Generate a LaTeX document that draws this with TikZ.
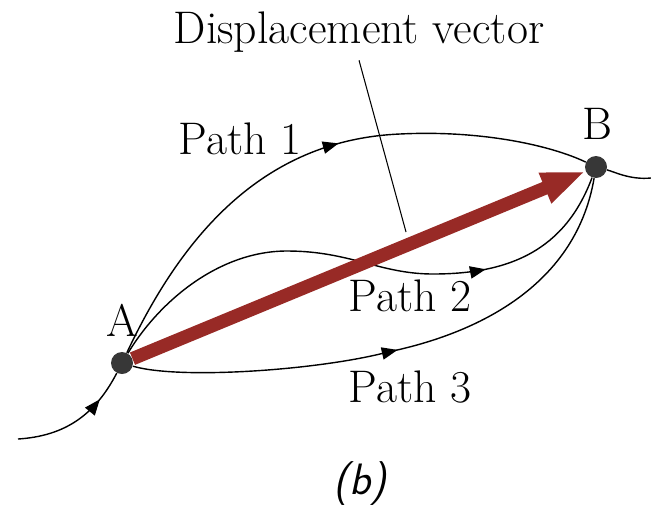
\documentclass[tikz,border=0pt]{standalone}
\usepackage{tikz}
\usetikzlibrary{arrows.meta,decorations.markings,positioning}

\definecolor{dispred}{RGB}{152,42,38}
\definecolor{dotgray}{RGB}{55,55,55}

\tikzset{
  lbl/.style={font=\fontsize{26}{30}\selectfont, inner sep=0pt, anchor=base},
  pt/.style={circle, fill=dotgray, inner sep=0pt, minimum size=0.44cm},
  trail/.style={line width=0.8pt, black},
  flowarrow/.style={postaction={decorate}, decoration={markings,
      mark=at position #1 with {\arrow{Triangle[length=9pt,width=7pt]}}}},
  disp/.style={line width=7.6pt, dispred, -{Triangle[length=25pt,width=17pt]}}
}

\begin{document}
\begin{tikzpicture}[x=0.02cm, y=-0.02cm]
    \useasboundingbox (0,0) rectangle (651,504);

    \node[pt] (A) at (122,363) {};
    \node[pt] (B) at (596,167) {};
    \coordinate (in) at (18,439);
    \coordinate (out) at (651,178);
    \coordinate (tick) at (406,232);

    \node[lbl] (title) at (359,43) {Displacement vector};
    \node[lbl] (nameA) at (122,336) {A};
    \node[lbl] (nameB) at (597,139) {B};
    \node[lbl] (path1) at (240,154) {Path 1};
    \node[lbl] (path2) at (410,311) {Path 2};
    \node[lbl] (path3) at (410,402) {Path 3};
    \node[lbl, font=\fontsize{25}{30}\selectfont\sffamily\itshape] (fig) at (360,494) {(b)};

    % paths from A to B
    \draw[trail, flowarrow=0.75] (in) .. controls (65,436) and (95,415) .. (A);
    \draw[trail] (B) .. controls (615,172) and (630,180) .. (out);
    \draw[trail, flowarrow=0.55] (A) .. controls (180,240) and (260,140) .. (400,134)
        .. controls (480,130) and (550,145) .. (B);
    \draw[trail, flowarrow=0.73] (A) .. controls (160,300) and (220,251) .. (287,251)
        .. controls (350,251) and (380,274) .. (433,274)
        .. controls (510,274) and (565,250) .. (B);
    \draw[trail, flowarrow=0.49] (A) .. controls (180,380) and (320,370) .. (388,352)
        .. controls (470,335) and (575,290) .. (B);

    % displacement
    \draw[disp] (A) -- (B);
    \draw[trail, line width=0.6pt] (title.south) ++(0,8) -- (tick);
\end{tikzpicture}
\end{document}
